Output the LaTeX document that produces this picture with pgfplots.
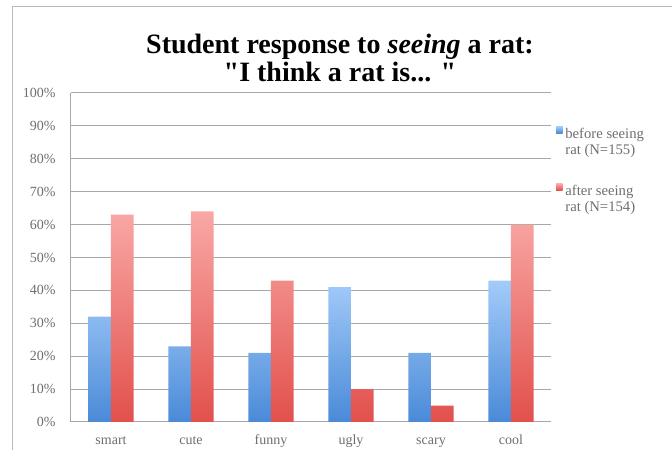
\documentclass[border=0pt]{standalone}
\usepackage{fontspec}
\setmainfont{Liberation Serif}
\usepackage{pgfplots}
\pgfplotsset{compat=1.18}

\definecolor{blueT}{HTML}{A3CBF9}
\definecolor{blueB}{HTML}{4A8AD8}
\definecolor{redT}{HTML}{F9A8A5}
\definecolor{redB}{HTML}{E2504C}
\definecolor{blueM}{HTML}{7FA3D6}
\definecolor{redM}{HTML}{D9809C}
\definecolor{txt}{HTML}{6E6E6E}
\definecolor{gridc}{HTML}{A8A8A8}

\begin{document}
\begin{tikzpicture}
\useasboundingbox (0,0) rectangle (504pt,337.5pt);
% chart frame (left and top edge of the pasted chart)
\draw[gridc!80, line width=0.75pt] (9pt,0) -- (9pt,332.25pt) -- (504pt,332.25pt);
\node[anchor=base, font=\fontsize{21}{22}\selectfont\bfseries] at (255pt,297.5pt)
  {Student response to \textit{seeing} a rat:};
\node[anchor=base, font=\fontsize{21}{22}\selectfont\bfseries] at (255pt,276pt)
  {\textquotedbl I think a rat is... \textquotedbl};

\begin{axis}[
  at={(53.25pt,21pt)}, anchor=south west,
  scale only axis, width=360pt, height=246.75pt,
  ybar=0pt, bar width=17pt,
  xmin=-0.5, xmax=5.5, ymin=0, ymax=100,
  xtick={0,...,5},
  xticklabels={smart,cute,funny,ugly,scary,cool},
  ytick={0,10,...,100},
  yticklabel={\pgfmathprintnumber{\tick}\%},
  /pgf/number format/assume math mode=true,
  axis x line*=bottom, axis y line*=left,
  axis line style={gridc, line width=0.75pt, -},
  ymajorgrids, grid style={gridc, line width=0.75pt},
  tick style={draw=none},
  ticklabel style={font=\fontsize{10.5}{12}\selectfont, text=txt},
  yticklabel style={xshift=-8pt},
  xticklabel style={yshift=-2pt, text height=1.6ex, text depth=0.3ex},
  legend style={at={(1.01,0.905)}, anchor=north west, draw=none, fill=none,
    font=\fontsize{11}{12}\selectfont, text=txt, row sep=29pt,
    cells={anchor=west}, inner sep=0pt},
  legend cell align=left,
]
\addplot[draw=none, top color=blueT, bottom color=blueB,
  legend image code/.code={\fill[blueM] (0pt,0.5pt) rectangle (5pt,5.5pt);}]
  coordinates {(0,32) (1,23) (2,21) (3,41) (4,21) (5,43)};
\addlegendentry{{\begin{tabular}[t]{@{}l@{}}before seeing\\rat (N=155)\end{tabular}}}
\addplot[draw=none, top color=redT, bottom color=redB,
  legend image code/.code={\fill[redM] (0pt,0.5pt) rectangle (5pt,5.5pt);}]
  coordinates {(0,63) (1,64) (2,43) (3,10) (4,5) (5,60)};
\addlegendentry{{\begin{tabular}[t]{@{}l@{}}after seeing\\rat (N=154)\end{tabular}}}
\end{axis}
\end{tikzpicture}
\end{document}
